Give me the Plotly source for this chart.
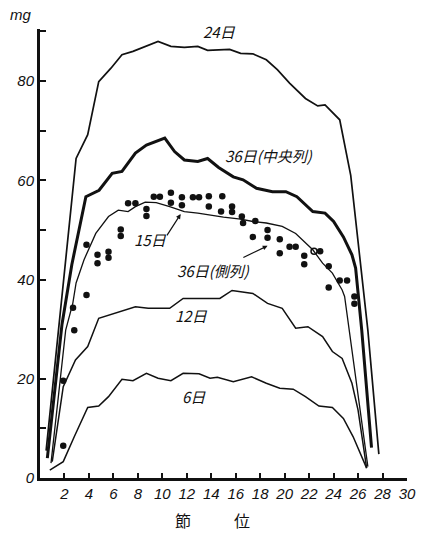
import plotly.graph_objects as go

# ---- data ----
d24_x = [0.5, 2.95, 3.9, 4.8, 5.8, 6.7, 7.6, 8.7, 9.65, 10.7, 11.8, 12.9, 13.7, 15.5, 16.4,
         17.4, 18.5, 19.4, 20.4, 21.7, 22.7, 23.3, 24.5, 25.4, 26.8, 27.7]
d24_y = [5.5, 64.4, 69.2, 79.9, 82.6, 85.3, 86.0, 87.1, 88.0, 87.0, 86.8, 87.0, 86.2, 86.4, 85.6,
         85.5, 84.3, 82.3, 79.6, 76.5, 75.0, 75.2, 72.2, 61.0, 29.8, 4.8]

d36c_x = [0.6, 1.8, 2.6, 3.75, 4.83, 5.9, 6.7, 7.8, 8.7, 10.2, 11.0, 11.8, 12.9, 13.7, 14.6,
          15.8, 16.6, 17.7, 19.0, 20.1, 21.0, 22.3, 23.3, 24.0, 24.8, 25.5, 25.8, 26.3, 27.1]
d36c_y = [4.0, 31.0, 43.0, 56.7, 58.0, 61.4, 61.8, 65.5, 67.1, 68.5, 65.8, 64.1, 63.8, 64.4, 62.6,
          60.7, 60.1, 58.4, 57.7, 57.7, 56.7, 53.7, 53.4, 51.7, 48.6, 45.0, 42.3, 29.8, 6.1]

d36s_x = [0.9, 2.1, 2.68, 2.95, 3.6, 4.56, 5.6, 6.4, 7.2, 7.8, 8.6, 9.5, 10.6, 11.8, 12.9, 13.9,
          15.0, 16.4, 17.4, 18.5, 19.8, 20.9, 22.3, 23.1, 23.9, 24.7, 24.9, 26.8]
d36s_y = [3.0, 29.8, 35.2, 39.3, 44.0, 49.3, 52.7, 54.0, 53.7, 54.7, 55.6, 55.5, 54.7, 53.7, 53.4, 53.0,
          52.6, 52.2, 51.7, 51.4, 50.7, 49.3, 46.0, 43.3, 41.3, 37.9, 36.6, 2.3]

d12_x = [1.0, 1.9, 2.9, 3.9, 4.8, 6.2, 7.8, 8.85, 10.6, 11.7, 12.9, 14.7, 15.7, 17.4, 18.6, 19.8,
         20.9, 21.9, 23.1, 23.9, 24.7, 25.5, 26.0, 26.7]
d12_y = [3.3, 18.4, 23.8, 26.5, 32.2, 33.2, 34.5, 34.2, 34.2, 36.2, 36.2, 36.2, 37.8, 37.2, 35.2, 34.2,
         30.2, 30.5, 28.5, 25.5, 24.1, 19.1, 13.7, 2.0]

d6_x = [0.8, 1.9, 2.8, 3.9, 4.8, 5.6, 6.7, 7.6, 8.7, 9.65, 10.7, 11.7, 13.0, 13.9, 14.5, 15.8,
        17.3, 18.5, 19.6, 20.7, 21.7, 22.8, 23.9, 24.8, 25.6, 26.7]
d6_y = [1.6, 3.3, 8.3, 14.2, 14.5, 16.4, 19.9, 19.6, 21.1, 20.1, 19.6, 21.1, 21.0, 20.1, 20.3, 19.4,
        20.4, 19.1, 18.1, 17.9, 16.4, 14.5, 14.2, 12.0, 8.3, 2.0]

d15_x = [1.9, 1.9, 2.7, 2.8, 3.8, 3.8, 4.7, 4.7, 5.6, 5.6, 6.6, 6.6, 7.2, 7.8, 8.7, 8.7, 9.3, 9.8,
         10.7, 10.7, 11.6, 11.6, 12.5, 13.0, 13.8, 13.8, 14.8, 14.9, 15.7, 15.7, 16.5, 16.6, 17.6, 17.4,
         18.6, 18.6, 19.6, 19.6, 20.4, 20.9, 21.6, 21.6, 22.9, 23.6, 23.6, 24.5, 25.1, 25.7, 25.7]
d15_y = [6.5, 19.6, 34.3, 29.8, 36.9, 47.0, 45.0, 43.3, 45.6, 44.4, 50.1, 48.8, 55.4, 55.4, 54.2, 52.8, 56.7, 56.7,
         57.5, 55.5, 56.6, 55.0, 56.6, 56.6, 56.8, 54.7, 53.7, 56.8, 54.7, 53.6, 52.7, 51.4, 51.8, 48.6,
         50.0, 48.4, 48.1, 45.3, 46.6, 46.6, 44.8, 43.1, 45.7, 42.7, 38.4, 39.8, 39.8, 36.6, 35.1]
d15_open_x = [22.4]
d15_open_y = [45.7]

x_ticks = list(range(2, 31, 2))
y_ticks = [0, 10, 20, 30, 40, 50, 60, 70, 80, 90]
y_ticktext = ['0', '', '20', '', '40', '', '60', '', '80', '']

# ---- figure ----
fig = go.Figure()
black = '#111111'

def line(x, y, w):
    fig.add_trace(go.Scatter(x=x, y=y, mode='lines', line=dict(color=black, width=w),
                             hoverinfo='skip'))

line(d24_x, d24_y, 1.7)
line(d36c_x, d36c_y, 3.0)
line(d36s_x, d36s_y, 1.3)
line(d12_x, d12_y, 1.5)
line(d6_x, d6_y, 1.5)

fig.add_trace(go.Scatter(x=d15_x, y=d15_y, mode='markers',
                         marker=dict(color=black, size=6.5), hoverinfo='skip'))
fig.add_trace(go.Scatter(x=d15_open_x, y=d15_open_y, mode='markers',
                         marker=dict(color=black, size=6, symbol='circle-open',
                                     line=dict(width=1.5, color=black)), hoverinfo='skip'))

cjk = "Noto Sans CJK JP"
lab_font = dict(family=cjk, size=15, color=black, style='italic')

def label(text, x, y):
    fig.add_annotation(text=text, x=x, y=y, xref='x', yref='y', showarrow=False, font=lab_font)

label('24日', 14.7, 90.0)
label('36日(中央列)', 18.7, 65.0)
label('15日', 9.0, 48.0)
label('36日(側列)', 14.2, 41.8)
label('12日', 12.4, 32.8)
label('6日', 12.6, 16.4)

# leader arrows
fig.add_annotation(x=11.5, y=53.2, ax=10.3, ay=48.6, xref='x', yref='y', axref='x', ayref='y',
                   text='', showarrow=True, arrowhead=2, arrowsize=0.8, arrowwidth=1.2,
                   arrowcolor=black)
fig.add_annotation(x=18.6, y=46.8, ax=16.5, ay=44.3, xref='x', yref='y', axref='x', ayref='y',
                   text='', showarrow=True, arrowhead=2, arrowsize=0.8, arrowwidth=1.2,
                   arrowcolor=black)

# axis titles (paper coordinates: plot area is 373 x 449 px)
fig.add_annotation(text='mg', x=-0.054, y=1.033, xref='paper', yref='paper', showarrow=False,
                   xanchor='center', yanchor='middle',
                   font=dict(family='Liberation Sans', size=15, color=black, style='italic'))
fig.add_annotation(text='節', x=0.389, y=-0.094, xref='paper', yref='paper', showarrow=False,
                   xanchor='center', yanchor='middle',
                   font=dict(family=cjk, size=16, color=black))
fig.add_annotation(text='位', x=0.550, y=-0.094, xref='paper', yref='paper', showarrow=False,
                   xanchor='center', yanchor='middle',
                   font=dict(family=cjk, size=16, color=black))

tick_font = dict(family='Liberation Sans', size=15, color=black, style='italic')

fig.update_layout(
    width=428, height=536,
    margin=dict(l=40, r=15, t=29, b=58),
    plot_bgcolor='white', paper_bgcolor='white',
    showlegend=False,
    xaxis=dict(range=[0, 30], tickvals=x_ticks, ticks='inside', ticklen=5, tickwidth=1.5,
               tickcolor=black, showline=True, linewidth=2.5, linecolor=black,
               showgrid=False, zeroline=False, tickfont=tick_font, fixedrange=True),
    yaxis=dict(range=[0, 90.5], tickvals=y_ticks, ticktext=y_ticktext, ticks='inside',
               ticklen=6, tickwidth=1.5, tickcolor=black, showline=True, linewidth=3,
               linecolor=black, showgrid=False, zeroline=False, tickfont=tick_font,
               fixedrange=True),
)

fig.write_html("out.html")
